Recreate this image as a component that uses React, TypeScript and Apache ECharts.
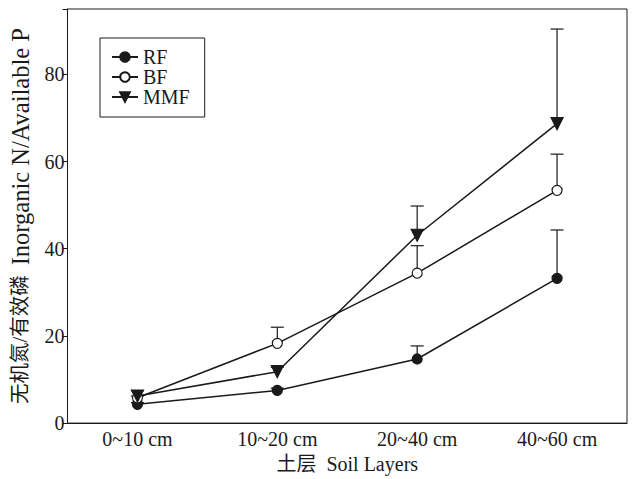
import React, { useEffect, useRef } from "react";
import * as echarts from "echarts";

const categories = ["0~10 cm", "10~20 cm", "20~40 cm", "40~60 cm"];
const seriesNames = ["RF", "BF", "MMF"];
const rfValues = [4.3, 7.5, 14.7, 33.2];
const bfValues = [5.8, 18.3, 34.4, 53.4];
const mmfValues = [6.2, 11.8, 43.1, 68.7];
const rfErrors = [0.4, 0.5, 3.0, 11.1];
const bfErrors = [0.4, 3.7, 6.3, 8.3];
const mmfErrors = [1.2, 1.0, 6.7, 21.7];
const yTicks = [0, 20, 40, 60, 80];

const FONT = '"Liberation Serif", "Noto Sans CJK SC", serif';
const INK = "#1a1a1a";

function errData(vals: number[], errs: number[]) {
  return vals.map((v, i) => [i, v, v + errs[i]]);
}

const errorRender = (params: any, api: any) => {
  const x = api.value(0);
  const v = api.value(1);
  const h = api.value(2);
  const p0 = api.coord([x, v]);
  const p1 = api.coord([x, h]);
  const style = { stroke: INK, lineWidth: 1.2 };
  return {
    type: "group",
    children: [
      { type: "line", shape: { x1: p0[0], y1: p0[1], x2: p1[0], y2: p1[1] }, style },
      { type: "line", shape: { x1: p1[0] - 6.5, y1: p1[1], x2: p1[0] + 6.5, y2: p1[1] }, style },
    ],
  };
};

export default function App() {
  const ref = useRef<HTMLDivElement>(null);
  useEffect(() => {
    if (!ref.current) return;
    const chart = echarts.init(ref.current, null, { renderer: "svg" });
    const valuesList = [rfValues, bfValues, mmfValues];
    const errList = [rfErrors, bfErrors, mmfErrors];
    const symbols = ["circle", "circle", "triangle"];
    const fills = [INK, "#ffffff", INK];
    const sizes = [10, 10, 12];
    const lineSeries = seriesNames.map((name, k) => ({
      name,
      type: "line",
      data: valuesList[k],
      symbol: symbols[k],
      symbolSize: sizes[k],
      symbolRotate: k === 2 ? 180 : 0,
      showAllSymbol: true,
      z: 5,
      lineStyle: { color: INK, width: 1.5 },
      itemStyle: { color: fills[k], borderColor: INK, borderWidth: 1.2 },
    }));
    const errSeries = seriesNames.map((name, k) => ({
      name: name + "_err",
      type: "custom",
      renderItem: errorRender,
      data: errData(valuesList[k], errList[k]),
      z: 2,
      silent: true,
    }));
    chart.setOption({
      animation: false,
      backgroundColor: "#ffffff",
      grid: {
        left: 64,
        right: 14,
        top: 9,
        bottom: 50.5,
        show: true,
        borderColor: INK,
        borderWidth: 1,
        backgroundColor: "transparent",
      },
      legend: {
        data: seriesNames,
        orient: "vertical",
        left: 100,
        top: 38,
        padding: [9, 15, 10, 11],
        itemGap: 0,
        itemWidth: 26,
        itemHeight: 12,
        borderColor: INK,
        borderWidth: 1,
        textStyle: { fontFamily: FONT, fontSize: 20, color: INK, lineHeight: 20 },
      },
      xAxis: {
        type: "category",
        data: categories,
        boundaryGap: true,
        name: "土层  Soil Layers",
        nameLocation: "middle",
        nameGap: 28,
        nameTextStyle: { fontFamily: FONT, fontSize: 20, color: INK },
        axisLine: { lineStyle: { color: INK, width: 1 } },
        axisTick: { alignWithLabel: true, length: 5, lineStyle: { color: INK } },
        axisLabel: { fontFamily: FONT, fontSize: 20, color: INK, margin: 6 },
        splitLine: { show: false },
      },
      yAxis: {
        type: "value",
        min: 0,
        max: 95,
        interval: 20,
        name: "{cn|无机氮/有效磷}  {en|Inorganic N/Available P}",
        nameLocation: "middle",
        nameGap: 35,
        nameTextStyle: {
          fontFamily: FONT,
          fontSize: 20,
          color: INK,
          rich: {
            cn: { fontFamily: FONT, fontSize: 20.5, color: INK },
            en: { fontFamily: FONT, fontSize: 24.5, color: INK },
          },
        },
        axisLine: { show: true, lineStyle: { color: INK, width: 1 } },
        axisTick: { show: true, length: 5, lineStyle: { color: INK } },
        axisLabel: {
          fontFamily: FONT,
          fontSize: 20,
          color: INK,
          margin: 3,
          formatter: (v: number) => (yTicks.includes(v) ? String(v) : ""),
        },
        splitLine: { show: false },
      },
      series: [...errSeries, ...lineSeries],
    });
    return () => chart.dispose();
  }, []);
  return (
    <div
      ref={ref}
      style={{ position: "fixed", left: 0, top: 0, width: 641, height: 479, background: "#fff" }}
    />
  );
}
